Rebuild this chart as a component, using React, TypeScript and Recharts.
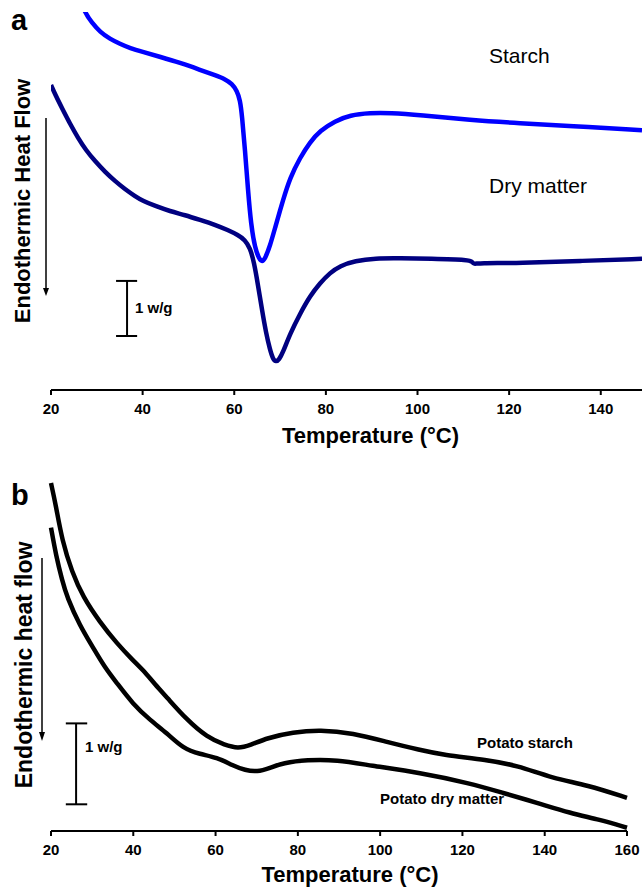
import { Line, LineChart, ReferenceLine, XAxis, YAxis } from "recharts";

const FONT = "'Liberation Sans', Arial, sans-serif";

// panel a: temperature (°C) and heat flow (W/g, arbitrary offset)
const starchTempA = [25.46, 27.42, 28.95, 30.7, 32.88, 35.06, 37.24, 40.08, 43.79, 48.16, 52.52, 55.8, 57.98, 59.51, 60.6, 61.26, 61.69, 62.35, 63.0, 63.66, 64.53, 65.41, 66.06, 66.72, 67.81, 68.9, 70.65, 72.18, 74.35, 76.54, 78.72, 81.99, 85.27, 89.63, 94.0, 100.55, 111.46, 122.38, 133.29, 149];
const starchFlowA = [7.41, 6.98, 6.8, 6.63, 6.5, 6.41, 6.33, 6.26, 6.17, 6.06, 5.93, 5.83, 5.76, 5.67, 5.54, 5.37, 5.09, 4.44, 3.7, 3.06, 2.63, 2.43, 2.37, 2.43, 2.67, 3.0, 3.52, 3.93, 4.3, 4.59, 4.8, 4.98, 5.09, 5.13, 5.13, 5.09, 5.0, 4.94, 4.89, 4.81];
const dryTempA = [20, 21.09, 22.4, 24.15, 25.89, 27.64, 29.6, 31.79, 33.97, 36.15, 38.34, 40.08, 42.7, 45.98, 49.25, 52.53, 55.8, 58.64, 60.82, 62.35, 63.44, 64.31, 65.19, 66.06, 66.93, 67.81, 68.46, 69.12, 69.77, 70.65, 72.17, 74.35, 76.54, 78.72, 80.9, 83.09, 86.36, 90.73, 96.18, 102.73, 111.46, 111.9, 112.34, 113.21, 122.38, 135.48, 149];
const dryFlowA = [5.65, 5.44, 5.22, 4.93, 4.67, 4.44, 4.24, 4.04, 3.87, 3.72, 3.59, 3.5, 3.41, 3.31, 3.24, 3.15, 3.06, 2.96, 2.87, 2.78, 2.63, 2.37, 1.94, 1.48, 1.06, 0.74, 0.57, 0.52, 0.56, 0.7, 1.04, 1.41, 1.74, 1.98, 2.17, 2.3, 2.39, 2.44, 2.44, 2.43, 2.41, 2.37, 2.33, 2.35, 2.35, 2.39, 2.43];
const ticksA = [20, 40, 60, 80, 100, 120, 140];

// panel b
const starchTempB = [20, 21.2, 22.7, 25.1, 27.8, 31.9, 36, 39.9, 42.4, 45.3, 48.2, 53.1, 57.9, 62.3, 65.5, 68.4, 72.5, 78.8, 85.4, 93.4, 101.7, 109.7, 115.3, 126, 133.3, 142, 150.3, 160];
const starchFlowB = [4.3, 4.02, 3.59, 3.2, 2.89, 2.58, 2.32, 2.11, 1.99, 1.81, 1.65, 1.37, 1.16, 1.06, 1.02, 1.06, 1.15, 1.22, 1.25, 1.21, 1.1, 1.0, 0.94, 0.88, 0.81, 0.65, 0.57, 0.41];
const dryTempB = [20, 21.2, 22.7, 23.9, 27, 30.2, 33.1, 36, 39.9, 44.1, 48.2, 52.1, 56.2, 60.3, 64.2, 67.2, 70.1, 73.2, 76.4, 82.2, 89.5, 97.5, 109.7, 121.8, 129.9, 138.1, 146.2, 153.4, 160];
const dryFlowB = [3.75, 3.41, 3.1, 2.89, 2.54, 2.27, 2.02, 1.83, 1.57, 1.37, 1.21, 1.02, 0.95, 0.91, 0.81, 0.75, 0.73, 0.78, 0.84, 0.88, 0.88, 0.81, 0.72, 0.59, 0.47, 0.35, 0.22, 0.14, 0.04];
const ticksB = [20, 40, 60, 80, 100, 120, 140, 160];

const toPoints = (temps: number[], flows: number[]) =>
  temps.map((t, i) => ({ t, v: flows[i] }));

const tickStyle = { fill: "#000", fontSize: 15, fontWeight: "bold", fontFamily: FONT };

const axisTitle = (dx: number, baseline: number) => (props: any) => {
  const vb = props.viewBox;
  return (
    <text
      x={vb.x + vb.width / 2 + dx}
      y={vb.y + baseline}
      textAnchor="middle"
      fontFamily={FONT}
      fontSize={22}
      fontWeight="bold"
      fill="#000"
    >
      Temperature (°C)
    </text>
  );
};

function ScaleBar({ x, x0, x1, y0, y1 }: { x: number; x0: number; x1: number; y0: number; y1: number }) {
  return (
    <>
      <ReferenceLine segment={[{ x, y: y0 }, { x, y: y1 }]} stroke="#000" strokeWidth={2} ifOverflow="visible" />
      <ReferenceLine segment={[{ x: x0, y: y0 }, { x: x1, y: y0 }]} stroke="#000" strokeWidth={2} ifOverflow="visible" />
      <ReferenceLine segment={[{ x: x0, y: y1 }, { x: x1, y: y1 }]} stroke="#000" strokeWidth={2} ifOverflow="visible" />
    </>
  );
}

export default function App() {
  const textBold = { fontFamily: FONT, fontWeight: "bold" as const, fill: "#000" };
  return (
    <div style={{ position: "absolute", left: 0, top: 0, width: 642, height: 888, background: "#fff" }}>
      <div style={{ position: "absolute", left: 0, top: 0 }}>
        <LineChart width={642} height={450} margin={{ top: 12, right: 0, bottom: 5, left: 51 }}>
          <XAxis
            dataKey="t"
            type="number"
            domain={[20, 149]}
            ticks={ticksA}
            interval={0}
            allowDataOverflow
            height={55}
            tickSize={5}
            tickMargin={8}
            tick={tickStyle}
            axisLine={{ stroke: "#000", strokeWidth: 2 }}
            tickLine={{ stroke: "#000", strokeWidth: 2 }}
            label={{ content: axisTitle(24, 53) }}
          />
          <YAxis hide type="number" domain={[0, 7]} allowDataOverflow />
          <Line data={toPoints(starchTempA, starchFlowA)} dataKey="v" type="basis" stroke="#0000ff" strokeWidth={4.5} dot={false} isAnimationActive={false} />
          <Line data={toPoints(dryTempA, dryFlowA)} dataKey="v" type="basis" stroke="#000080" strokeWidth={4.5} dot={false} isAnimationActive={false} />
          <ScaleBar x={36.6} x0={34.2} x1={38.8} y0={1.0} y1={2.02} />
        </LineChart>
      </div>
      <div style={{ position: "absolute", left: 0, top: 440 }}>
        <LineChart width={642} height={448} margin={{ top: 35, right: 15, bottom: 2, left: 51 }}>
          <XAxis
            dataKey="t"
            type="number"
            domain={[20, 160]}
            ticks={ticksB}
            interval={0}
            height={55}
            tickSize={5}
            tickMargin={8}
            tick={tickStyle}
            axisLine={{ stroke: "#000", strokeWidth: 2 }}
            tickLine={{ stroke: "#000", strokeWidth: 2 }}
            label={{ content: axisTitle(11, 51) }}
          />
          <YAxis hide type="number" domain={[0, 4.4]} allowDataOverflow />
          <Line data={toPoints(starchTempB, starchFlowB)} dataKey="v" type="basis" stroke="#000" strokeWidth={4.5} dot={false} isAnimationActive={false} />
          <Line data={toPoints(dryTempB, dryFlowB)} dataKey="v" type="basis" stroke="#000" strokeWidth={4.5} dot={false} isAnimationActive={false} />
          <ScaleBar x={26.1} x0={23.6} x1={28.8} y0={0.33} y1={1.33} />
        </LineChart>
      </div>
      <svg width={642} height={888} style={{ position: "absolute", left: 0, top: 0, pointerEvents: "none" }}>
        <text x={11} y={30} fontSize={29} {...textBold}>a</text>
        <text transform="translate(30,201) rotate(-90)" textAnchor="middle" fontSize={22} {...textBold}>
          Endothermic Heat Flow
        </text>
        <line x1={46} y1={118} x2={46} y2={289} stroke="#000" strokeWidth={1.5} />
        <polygon points="43,288 49,288 46,296" fill="#000" />
        <text x={135} y={313} fontSize={15} {...textBold}>1 w/g</text>
        <text x={489} y={63} fontSize={21} fontFamily={FONT} fill="#000">Starch</text>
        <text x={489} y={193} fontSize={21} fontFamily={FONT} fill="#000">Dry matter</text>

        <text x={11} y={505} fontSize={29} {...textBold}>b</text>
        <text transform="translate(32,665) rotate(-90)" textAnchor="middle" fontSize={23} {...textBold}>
          Endothermic heat flow
        </text>
        <line x1={42} y1={558} x2={42} y2={733} stroke="#000" strokeWidth={1.5} />
        <polygon points="39,732 45,732 42,741" fill="#000" />
        <text x={85} y={752} fontSize={15} {...textBold}>1 w/g</text>
        <text x={477} y={748} fontSize={15} {...textBold}>Potato starch</text>
        <text x={380} y={804} fontSize={15} {...textBold}>Potato dry matter</text>
      </svg>
    </div>
  );
}
